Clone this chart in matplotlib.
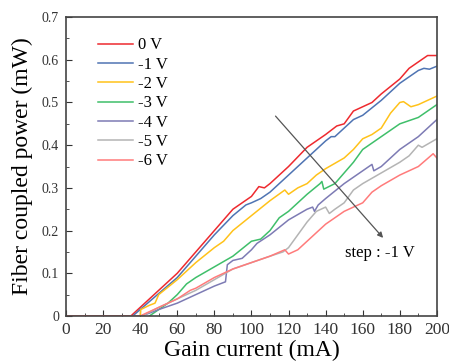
import numpy as np
import matplotlib.pyplot as plt
from matplotlib.ticker import MultipleLocator

plt.rcParams['font.family'] = ['Liberation Serif', 'DejaVu Serif']

# Gain current (mA) / fiber coupled power (mW) for each bias voltage
x_0v = [0, 35, 40, 60, 80, 90, 100, 104, 107, 110, 120, 130, 140, 146, 150, 155, 160, 165, 170, 180, 185, 190, 195, 200]
y_0v = [0, 0, 0.02, 0.10, 0.20, 0.25, 0.28, 0.303, 0.30, 0.31, 0.35, 0.395, 0.425, 0.445, 0.45, 0.48, 0.49, 0.50, 0.52, 0.555, 0.58, 0.595, 0.61, 0.61]

x_1v = [36, 40, 60, 80, 90, 97, 100, 105, 110, 120, 130, 140, 143, 145, 150, 155, 160, 170, 180, 190, 193, 196, 200]
y_1v = [0, 0.015, 0.09, 0.19, 0.235, 0.26, 0.265, 0.275, 0.29, 0.33, 0.37, 0.41, 0.42, 0.42, 0.44, 0.46, 0.47, 0.505, 0.545, 0.575, 0.58, 0.578, 0.585]

x_2v = [40, 40.3, 45, 48, 50, 60, 70, 80, 85, 90, 100, 110, 118, 120, 125, 130, 135, 140, 150, 155, 160, 165, 170, 175, 180, 182, 186, 190, 200]
y_2v = [0, 0.015, 0.025, 0.03, 0.05, 0.085, 0.125, 0.16, 0.175, 0.20, 0.235, 0.27, 0.295, 0.285, 0.30, 0.31, 0.33, 0.345, 0.37, 0.39, 0.415, 0.425, 0.44, 0.475, 0.50, 0.502, 0.49, 0.495, 0.515]

x_3v = [45, 50, 55, 60, 65, 70, 80, 90, 100, 105, 110, 115, 120, 130, 137, 138, 139, 145, 150, 155, 160, 170, 180, 190, 200]
y_3v = [0, 0.015, 0.03, 0.05, 0.075, 0.09, 0.115, 0.14, 0.175, 0.18, 0.20, 0.23, 0.245, 0.285, 0.31, 0.315, 0.297, 0.31, 0.335, 0.36, 0.39, 0.42, 0.45, 0.465, 0.495]

x_4v = [41, 50, 60, 70, 80, 86, 87, 90, 95, 100, 103, 110, 120, 130, 133, 134, 136, 140, 150, 160, 165, 166, 170, 175, 180, 190, 200]
y_4v = [0, 0.015, 0.03, 0.05, 0.07, 0.08, 0.12, 0.13, 0.135, 0.155, 0.17, 0.19, 0.225, 0.25, 0.255, 0.245, 0.26, 0.275, 0.31, 0.34, 0.355, 0.34, 0.35, 0.37, 0.39, 0.42, 0.46]

x_5v = [41, 50, 60, 70, 80, 90, 100, 110, 117, 120, 125, 130, 135, 140, 142, 145, 150, 155, 160, 170, 180, 185, 190, 192, 200]
y_5v = [0, 0.02, 0.04, 0.06, 0.085, 0.11, 0.125, 0.14, 0.15, 0.16, 0.19, 0.22, 0.245, 0.255, 0.24, 0.25, 0.265, 0.295, 0.31, 0.335, 0.36, 0.375, 0.40, 0.395, 0.415]

x_6v = [0, 40, 45, 50, 60, 67, 70, 80, 90, 100, 110, 118, 120, 125, 130, 140, 150, 155, 160, 165, 170, 180, 190, 198, 200]
y_6v = [0, 0, 0.01, 0.02, 0.04, 0.06, 0.065, 0.09, 0.11, 0.125, 0.14, 0.155, 0.145, 0.155, 0.175, 0.215, 0.245, 0.255, 0.265, 0.29, 0.305, 0.33, 0.35, 0.38, 0.37]

etiquetas = ['0 V', '-1 V', '-2 V', '-3 V', '-4 V', '-5 V', '-6 V']
colores = ['#ee2a2f', '#4f74b3', '#ffc21a', '#3fbf6a', '#7d7bb4', '#b4b4b4', '#ff7b7b']
series = [(x_0v, y_0v), (x_1v, y_1v), (x_2v, y_2v), (x_3v, y_3v),
          (x_4v, y_4v), (x_5v, y_5v), (x_6v, y_6v)]

fig = plt.figure(figsize=(4.49, 3.64), dpi=100)
ax = fig.add_axes([0.147, 0.132, 0.826, 0.821])

for (xs, ys), etiqueta, color in zip(series, etiquetas, colores):
    ax.plot(xs, ys, color=color, lw=1.1, label=etiqueta)

ax.set_xlim(0, 200)
ax.set_ylim(0, 0.7)
ax.xaxis.set_major_locator(MultipleLocator(20))
ax.xaxis.set_minor_locator(MultipleLocator(10))
ax.yaxis.set_major_locator(MultipleLocator(0.1))
ax.yaxis.set_minor_locator(MultipleLocator(0.05))
ax.yaxis.set_major_formatter(plt.FuncFormatter(lambda v, p: '0' if v == 0 else f'{v:.1f}'))
ax.tick_params(which='both', direction='in', top=False, right=False, colors='#333333')
ax.tick_params(axis='x', labelsize=12.5, pad=4)
ax.tick_params(axis='y', labelsize=10, pad=5)
ax.tick_params(which='major', length=4)
ax.tick_params(which='minor', length=2.5)
for s in ax.spines.values():
    s.set_color('#444444')
    s.set_linewidth(1.2)

ax.set_xlabel('Gain current (mA)', fontsize=17, labelpad=2)
ax.set_ylabel('Fiber coupled power (mW)', fontsize=17, labelpad=6)

ax.legend(loc='upper left', bbox_to_anchor=(0.086, 0.932), frameon=False, fontsize=12,
          handlelength=2.1, handletextpad=0.3, labelspacing=0.2,
          borderpad=0, borderaxespad=0)

# flecha de tendencia
ax.annotate('', xy=(172, 0.178), xytext=(112, 0.473),
            arrowprops=dict(arrowstyle='-|>', color='#555555', lw=0.9, mutation_scale=8))
ax.text(169, 0.147, 'step : -1 V', fontsize=12, ha='center', va='center')

plt.savefig('out.png', dpi=100)
